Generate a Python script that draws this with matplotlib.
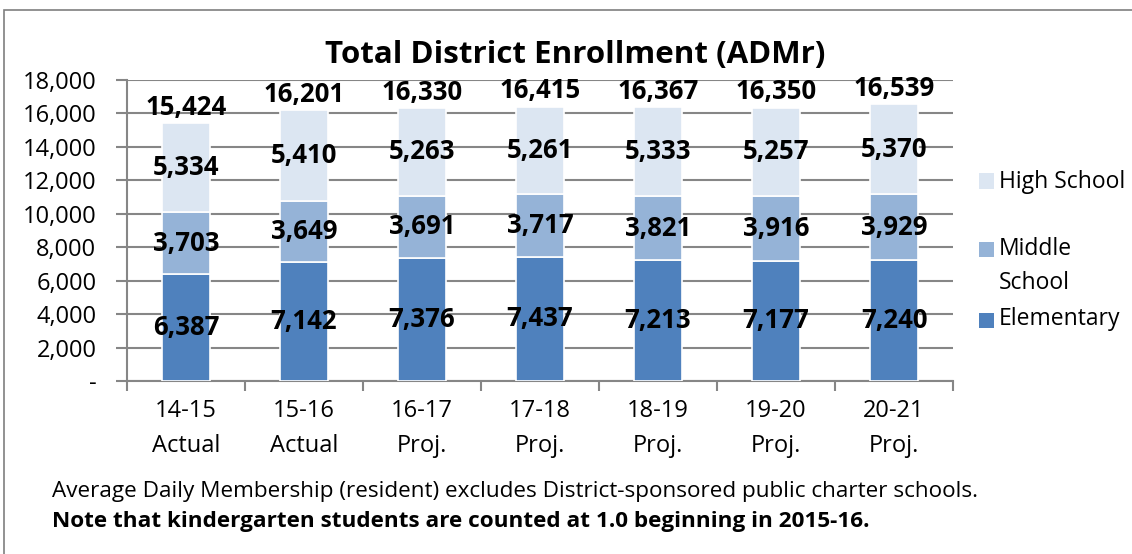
import matplotlib
matplotlib.use("Agg")
import matplotlib.pyplot as plt
from matplotlib.patches import Rectangle
from matplotlib.ticker import FuncFormatter, FixedLocator

categories = ["14-15\nActual", "15-16\nActual", "16-17\nProj.", "17-18\nProj.",
              "18-19\nProj.", "19-20\nProj.", "20-21\nProj."]
elementary = [6387, 7142, 7376, 7437, 7213, 7177, 7240]
middle = [3703, 3649, 3691, 3717, 3821, 3916, 3929]
high = [5334, 5410, 5263, 5261, 5333, 5257, 5370]
totals = [15424, 16201, 16330, 16415, 16367, 16350, 16539]
series_names = ["Elementary", "Middle\nSchool", "High School"]
colors = ["#4F81BD", "#95B3D7", "#DCE6F2"]

plt.rcParams['font.family'] = ['Open Sans', 'DejaVu Sans']

fig = plt.figure(figsize=(11.32, 5.54), dpi=100)
W, H = 1132, 554
ax = fig.add_axes([127 / W, 1 - 381 / H, (953 - 127) / W, (381 - 80) / H])

x = list(range(len(categories)))
bw = 0.41
bottoms2 = elementary
bottoms3 = [e + m for e, m in zip(elementary, middle)]
b1 = ax.bar(x, elementary, bw, color=colors[0], edgecolor="white", linewidth=1.2, zorder=3, label=series_names[0])
b2 = ax.bar(x, middle, bw, bottom=bottoms2, color=colors[1], edgecolor="white", linewidth=1.2, zorder=3, label=series_names[1])
b3 = ax.bar(x, high, bw, bottom=bottoms3, color=colors[2], edgecolor="white", linewidth=1.2, zorder=3, label=series_names[2])

lab_kw = dict(ha="center", va="center", fontsize=18.5, fontweight="bold", color="black", zorder=5)
for i in x:
    ax.text(i, elementary[i] / 2, f"{elementary[i]:,}", **lab_kw)
    ax.text(i, bottoms2[i] + middle[i] / 2, f"{middle[i]:,}", **lab_kw)
    ax.text(i, bottoms3[i] + high[i] / 2, f"{high[i]:,}", **lab_kw)
    ax.text(i, totals[i] + 950, f"{totals[i]:,}", **lab_kw)

ax.set_xlim(-0.5, len(categories) - 0.5)
ax.set_ylim(0, 18000)
ax.set_yticks(range(0, 18001, 2000))
ax.yaxis.set_major_formatter(FuncFormatter(lambda v, p: "-" if v == 0 else f"{int(v):,}"))
ax.set_xticks(x)
ax.set_xticklabels(categories, fontsize=17, linespacing=1.6)
ax.xaxis.set_minor_locator(FixedLocator([i - 0.5 for i in range(len(categories) + 1)]))
ax.tick_params(axis="x", which="major", length=0, pad=13)
ax.tick_params(axis="x", which="minor", length=7, color="#868686", width=1.5)
ax.tick_params(axis="y", length=8, color="#868686", width=1.5, labelsize=17, pad=14)
ax.grid(axis="y", color="#868686", linewidth=1.5, zorder=0)
for s in ["top", "right"]:
    ax.spines[s].set_visible(False)
for s in ["left", "bottom"]:
    ax.spines[s].set_color("#868686")
    ax.spines[s].set_linewidth(1.5)

fig.text(575 / W, 1 - 55 / H, "Total District Enrollment (ADMr)", ha="center", va="center",
         fontsize=22.5, fontweight="bold")

# legend (drawn manually to match the original's uneven spacing)
leg_items = [(series_names[2], colors[2], 181, 182), (series_names[1], colors[1], 250, 266),
             (series_names[0], colors[0], 320, 319)]
for name, col, ysq, ytxt in leg_items:
    fig.patches.append(Rectangle((979 / W, 1 - (ysq + 7.5) / H), 15 / W, 15 / H,
                                 transform=fig.transFigure, facecolor=col, edgecolor="none"))
    fig.text(999 / W, 1 - ytxt / H, name, ha="left", va="center", fontsize=16.5, linespacing=1.6)

fig.text(52 / W, 1 - 492 / H, "Average Daily Membership (resident) excludes District-sponsored public charter schools.",
         ha="left", va="center", fontsize=16.2)
fig.text(52 / W, 1 - 522 / H, "Note that kindergarten students are counted at 1.0 beginning in 2015-16.",
         ha="left", va="center", fontsize=16.2, fontweight="bold")

fig.patches.append(Rectangle((4 / W, -0.1), 1.2, 1 - 10 / H + 0.1, transform=fig.transFigure,
                             fill=False, edgecolor="#7F7F7F", linewidth=1.2))

fig.savefig("out.png", dpi=100)
